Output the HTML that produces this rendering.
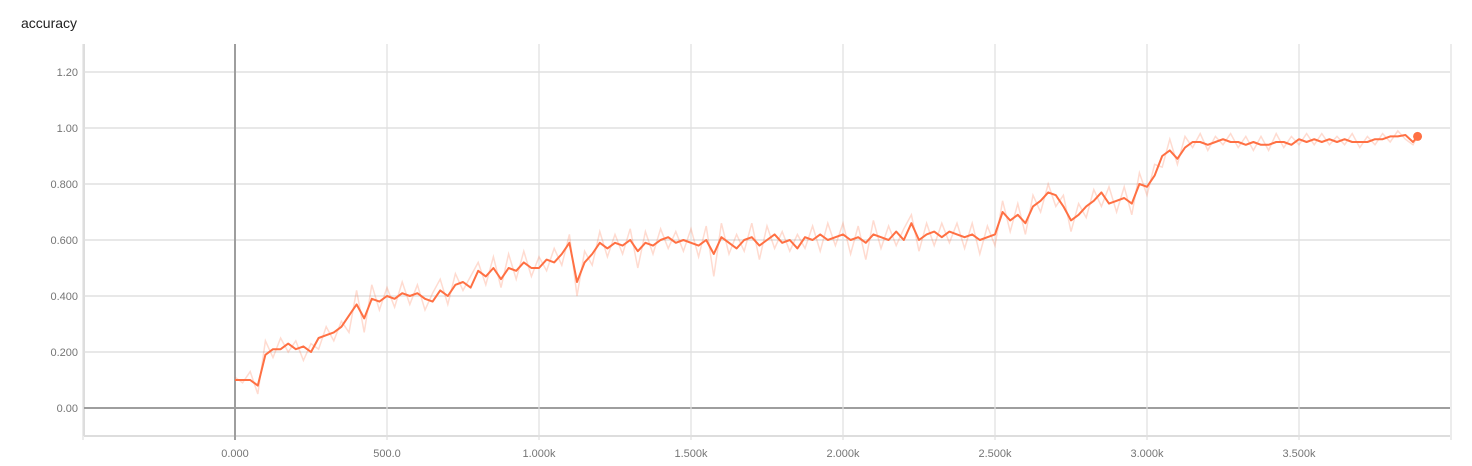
<!DOCTYPE html>
<html><head><meta charset="utf-8">
<style>
body{margin:0;background:#fff;width:1472px;height:466px;overflow:hidden;font-family:"Liberation Sans",sans-serif;}
#title{position:absolute;left:21px;top:15px;font-size:14px;color:#212121;}
svg{position:absolute;left:0;top:0;}
text{font-family:"Liberation Sans",sans-serif;font-size:11px;fill:#757575;}
</style></head>
<body>
<div id="title">accuracy</div>
<svg id="chart" width="1472" height="466"></svg>
<script>
const yTicks = [0, 0.2, 0.4, 0.6, 0.8, 1.0, 1.2];
const yTickLabels = ["0.00", "0.200", "0.400", "0.600", "0.800", "1.00", "1.20"];
const xTicks = [-500, 0, 500, 1000, 1500, 2000, 2500, 3000, 3500, 4000];
const xTickLabels = ["", "0.000", "500.0", "1.000k", "1.500k", "2.000k", "2.500k", "3.000k", "3.500k", ""];
const smoothed = [.10,.10,.10,.08,.19,.21,.21,.23,.21,.22,.20,.25,.26,.27,.29,.33,.37,.32,.39,.38,
.40,.39,.41,.40,.41,.39,.38,.42,.40,.44,.45,.43,.49,.47,.50,.46,.50,.49,.52,.50,
.50,.53,.52,.55,.59,.45,.52,.55,.59,.57,.59,.58,.60,.56,.59,.58,.60,.61,.59,.60,
.59,.58,.60,.55,.61,.59,.57,.60,.61,.58,.60,.62,.59,.60,.57,.61,.60,.62,.60,.61,
.62,.60,.61,.59,.62,.61,.60,.63,.60,.66,.60,.62,.63,.61,.63,.62,.61,.62,.60,.61,
.62,.70,.67,.69,.66,.72,.74,.77,.76,.72,.67,.69,.72,.74,.77,.73,.74,.75,.73,.80,
.79,.83,.90,.92,.89,.93,.95,.95,.94,.95,.96,.95,.95,.94,.95,.94,.94,.95,.95,.94,
.96,.95,.96,.95,.96,.95,.96,.95,.95,.95,.96,.96,.97,.97,.975,.95,.97];
const raw = [.11,.09,.13,.05,.24,.18,.25,.20,.24,.17,.23,.21,.29,.24,.31,.27,.42,.27,.44,.35,
.43,.36,.45,.37,.44,.35,.41,.46,.37,.48,.42,.47,.52,.44,.54,.43,.55,.46,.56,.47,
.54,.49,.57,.51,.62,.40,.56,.51,.63,.54,.62,.55,.64,.50,.63,.55,.64,.57,.63,.56,
.64,.54,.65,.47,.66,.55,.62,.56,.66,.53,.65,.57,.63,.56,.62,.57,.65,.56,.66,.58,
.66,.55,.65,.53,.67,.57,.65,.58,.64,.69,.56,.66,.58,.66,.59,.66,.57,.66,.55,.65,
.58,.74,.63,.73,.62,.76,.70,.80,.72,.76,.63,.73,.68,.78,.72,.79,.70,.79,.69,.84,
.76,.87,.86,.96,.87,.97,.93,.98,.92,.97,.94,.98,.93,.97,.92,.97,.92,.98,.93,.97,
.94,.98,.94,.98,.94,.97,.94,.98,.93,.97,.94,.98,.95,.99,.96,.94,.97];
const stepInterval = 25;
const lastStep = 3890;

const svg = document.getElementById('chart');
const NS = 'http://www.w3.org/2000/svg';
const X0 = 235, XPX = 152/500;
const Y0 = 408, YPX = 280;
const xScale = s => X0 + s * XPX;
const yScale = v => Y0 - v * YPX;
function stepAt(i){ return i === smoothed.length - 1 ? lastStep : i * stepInterval; }
function mk(tag, attrs){ const e = document.createElementNS(NS, tag); for (const k in attrs) e.setAttribute(k, attrs[k]); svg.appendChild(e); return e; }

// frame
let f = mk('line',{x1:84,y1:44,x2:84,y2:436,stroke:'#ddd','stroke-width':2});


f = mk('line',{x1:84,y1:436,x2:1450,y2:436,stroke:'#ddd','stroke-width':2});



yTicks.forEach((v,i)=>{
  const y = yScale(v);
  const g = mk('line',{x1:84,y1:y,x2:1450,y2:y,stroke:v===0?'#9e9e9e':'#e0e0e0','stroke-width':v===0?2:1.5});
  
  
  const t = mk('text',{x:78,y:y+4,'text-anchor':'end'});
  t.textContent = yTickLabels[i];
  
  
});
xTicks.forEach((s,i)=>{
  const x = xScale(s);
  const g = mk('line',{x1:x,y1:44,x2:x,y2:440,stroke:s===0?'#9e9e9e':'#e0e0e0','stroke-width':s===0?2:1.2});
  
  
  const t = mk('text',{x:x,y:457,'text-anchor':'middle'});
  t.textContent = xTickLabels[i];
  
  
});

function path(arr){ return arr.map((v,i)=>(i?'L':'M')+xScale(stepAt(i)).toFixed(1)+','+yScale(v).toFixed(1)).join(''); }
const rp = mk('path',{d:path(raw),fill:'none',stroke:'#ff7043','stroke-opacity':0.25,'stroke-width':1.5});


const sp = mk('path',{d:path(smoothed),fill:'none',stroke:'#ff7043','stroke-width':2,'stroke-linejoin':'round'});


const li = smoothed.length-1;
const dot = mk('circle',{cx:xScale(stepAt(li)),cy:yScale(smoothed[li]),r:4.5,fill:'#ff7043'});


</script>
</body></html>
